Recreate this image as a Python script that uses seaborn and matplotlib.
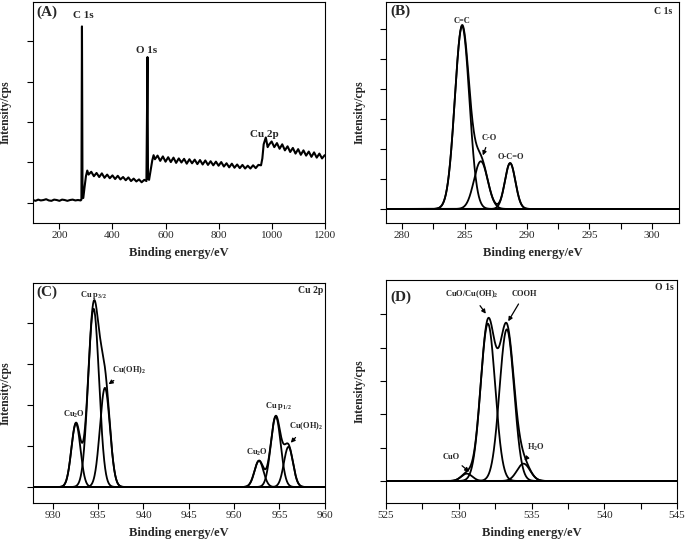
import numpy as np
import pandas as pd
import matplotlib
matplotlib.use('Agg')
import matplotlib.pyplot as plt
import seaborn as sns
from matplotlib.ticker import MultipleLocator, NullFormatter

# survey spectrum (A)
survey_ev = [100, 110, 120, 130, 140, 150, 160, 170, 180, 190, 200, 210, 220, 230, 240,
             250, 260, 270, 280, 283, 285, 287, 290, 295, 300, 305, 310, 320, 330, 340,
             350, 360, 370, 380, 390, 400, 410, 420, 430, 440, 450, 460, 470, 480, 490,
             500, 510, 520, 528, 532, 534, 538, 545, 550, 555, 560, 570, 580, 590, 600,
             610, 620, 630, 640, 650, 660, 670, 680, 690, 700, 710, 720, 730, 740, 750,
             760, 770, 780, 790, 800, 810, 820, 830, 840, 850, 860, 870, 880, 890, 900,
             910, 920, 930, 940, 950, 960, 965, 970, 978, 985, 990, 1000, 1010, 1020, 1030,
             1040, 1050, 1060, 1070, 1080, 1090, 1100, 1110, 1120, 1130, 1140, 1150, 1160,
             1170, 1180, 1190, 1200]
survey_int = [0.07, 0.05, 0.08, 0.06, 0.07, 0.09, 0.06, 0.05, 0.08, 0.07, 0.05, 0.08, 0.07, 0.05, 0.07,
              0.08, 0.06, 0.07, 0.06, 0.08, 4.37, 0.40, 0.12, 0.40, 0.66, 0.80, 0.70, 0.77, 0.66, 0.74,
              0.64, 0.73, 0.62, 0.70, 0.61, 0.68, 0.59, 0.67, 0.58, 0.64, 0.56, 0.63, 0.54, 0.60, 0.53,
              0.58, 0.51, 0.57, 0.54, 3.61, 0.60, 0.57, 0.85, 1.05, 1.18, 1.08, 1.17, 1.04, 1.15, 1.02,
              1.13, 1.01, 1.12, 0.99, 1.10, 1.00, 1.09, 0.97, 1.08, 0.98, 1.07, 0.96, 1.06, 0.95, 1.05,
              0.94, 1.03, 0.93, 1.02, 0.92, 1.01, 0.90, 0.98, 0.88, 0.97, 0.87, 0.95, 0.86, 0.94, 0.85,
              0.92, 0.85, 0.93, 0.86, 0.94, 0.93, 1.10, 1.45, 1.62, 1.38, 1.44, 1.52, 1.38, 1.48, 1.34,
              1.45, 1.30, 1.40, 1.26, 1.36, 1.22, 1.33, 1.19, 1.30, 1.17, 1.27, 1.14, 1.25,
              1.12, 1.22, 1.10, 1.18]

# C 1s fit components (B)
c1s_names = ['C=C', 'C-O', 'O-C=O']
c1s_center = [284.8, 286.3, 288.65]
c1s_height = [6.1, 1.59, 1.53]
c1s_sigma = [0.58, 0.55, 0.42]

# Cu 2p fit components (C)
cu_names = ['Cu2O', 'Cu p3/2', 'Cu(OH)2', 'Cu2O', 'Cu p1/2', 'Cu(OH)2']
cu_center = [932.55, 934.5, 935.75, 952.75, 954.6, 956.0]
cu_height = [1.55, 4.35, 2.42, 0.64, 1.72, 0.98]
cu_sigma = [0.5, 0.6, 0.55, 0.5, 0.55, 0.5]

# O 1s fit components (D)
o_names = ['CuO', 'CuO/Cu(OH)2', 'COOH', 'H2O']
o_center = [530.55, 532.0, 533.3, 534.45]
o_height = [0.22, 4.72, 4.55, 0.52]
o_sigma = [0.38, 0.5, 0.5, 0.45]


def gauss(x, c, h, s):
    return h * np.exp(-0.5 * ((x - c) / s) ** 2)


def fit_frame(x, centers, heights, sigmas):
    rows = []
    for i, (c, h, s) in enumerate(zip(centers, heights, sigmas)):
        rows.append(pd.DataFrame({'ev': x, 'cps': gauss(x, c, h, s), 'comp': f'p{i}'}))
    total = sum(gauss(x, c, h, s) for c, h, s in zip(centers, heights, sigmas))
    rows.append(pd.DataFrame({'ev': x, 'cps': total, 'comp': 'envelope'}))
    return pd.concat(rows, ignore_index=True)


sns.set_theme(style='ticks')
plt.rcParams['font.family'] = ['Liberation Serif', 'DejaVu Serif']
plt.rcParams['mathtext.fontset'] = 'custom'
plt.rcParams['mathtext.rm'] = 'Liberation Serif:bold'
plt.rcParams['mathtext.default'] = 'rm'

fig = plt.figure(figsize=(6.85, 5.44), dpi=100)
axA = fig.add_axes([0.048, 0.590, 0.426, 0.406])
axB = fig.add_axes([0.5635, 0.590, 0.428, 0.406])
axC = fig.add_axes([0.048, 0.0754, 0.426, 0.4044])
axD = fig.add_axes([0.5635, 0.0754, 0.425, 0.4099])

lab = dict(fontweight='bold', fontsize=6, ha='center', va='center')
arr = dict(arrowstyle='-|>', color='black', lw=0.9, mutation_scale=6)


def style(ax, xlim, ylim, nticks, minor=None):
    ax.set_xlim(*xlim)
    ax.set_ylim(*ylim)
    ax.set_yticks(range(nticks))
    ax.yaxis.set_major_formatter(NullFormatter())
    if minor:
        ax.xaxis.set_minor_locator(MultipleLocator(minor))
    ax.tick_params(axis='both', which='both', direction='out', length=4, width=0.8,
                   color='black', labelsize=8, pad=2)
    ax.set_xlabel('Binding energy/eV', fontweight='bold', fontsize=9, labelpad=5)
    ax.set_ylabel('Intensity/cps', fontweight='bold', fontsize=8.5, labelpad=9)
    for sp in ax.spines.values():
        sp.set_visible(True)
        sp.set_linewidth(0.8)
        sp.set_color('black')


# (A) survey
survey = pd.DataFrame({'ev': survey_ev, 'cps': survey_int})
sns.lineplot(data=survey, x='ev', y='cps', ax=axA, color='black', lw=1.5, sort=False)
style(axA, (100, 1200), (-0.5, 4.97), 5)
axA.set_xticks(range(200, 1201, 200))
axA.text(0.012, 0.985, '(A)', transform=axA.transAxes, fontsize=11, fontweight='bold', va='top')
axA.text(289, 4.64, 'C 1s', fontweight='bold', fontsize=8, ha='center', va='center')
axA.text(530, 3.78, 'O 1s', fontweight='bold', fontsize=8, ha='center', va='center')
axA.text(974, 1.70, 'Cu 2p', fontweight='bold', fontsize=8, ha='center', va='center')

# (B) C 1s
fb = fit_frame(np.linspace(278.7, 302.2, 1200), c1s_center, c1s_height, c1s_sigma)
sns.lineplot(data=fb, x='ev', y='cps', units='comp', estimator=None, ax=axB, color='black', lw=1.3)
axB.axhline(0, color='black', lw=1.3)
style(axB, (278.7, 302.2), (-0.47, 6.9), 7, minor=2.5)
axB.set_xticks(range(280, 301, 5))
axB.text(0.014, 0.99, '(B)', transform=axB.transAxes, fontsize=11, fontweight='bold', va='top')
axB.text(0.975, 0.98, 'C 1s', transform=axB.transAxes, fontsize=7, fontweight='bold', va='top', ha='right')
axB.text(284.8, 6.27, 'C=C', **lab)
axB.annotate('C-O', xy=(286.38, 1.70), xytext=(287.0, 2.38), arrowprops=arr, **lab)
axB.text(288.7, 1.74, 'O-C=O', **lab)

# (C) Cu 2p
fc = fit_frame(np.linspace(927.8, 960, 1600), cu_center, cu_height, cu_sigma)
sns.lineplot(data=fc, x='ev', y='cps', units='comp', estimator=None, ax=axC, color='black', lw=1.3)
axC.axhline(0, color='black', lw=1.3)
style(axC, (927.8, 960), (-0.39, 4.98), 5)
axC.set_xticks(range(930, 961, 5))
axC.text(0.013, 0.99, '(C)', transform=axC.transAxes, fontsize=11, fontweight='bold', va='top')
axC.text(0.995, 0.985, 'Cu 2p', transform=axC.transAxes, fontsize=7, fontweight='bold', va='top', ha='right')
axC.text(934.47, 4.68, 'Cu p$_{3/2}$', **lab)
axC.annotate('Cu(OH)$_2$', xy=(935.9, 2.47), xytext=(938.4, 2.86), arrowprops=arr, **lab)
axC.text(932.34, 1.78, 'Cu$_2$O', **lab)
axC.text(954.87, 1.98, 'Cu p$_{1/2}$', **lab)
axC.annotate('Cu(OH)$_2$', xy=(956.05, 1.03), xytext=(957.9, 1.48), arrowprops=arr, **lab)
axC.text(952.5, 0.85, 'Cu$_2$O', **lab)

# (D) O 1s
fd = fit_frame(np.linspace(525, 545, 1200), o_center, o_height, o_sigma)
sns.lineplot(data=fd, x='ev', y='cps', units='comp', estimator=None, ax=axD, color='black', lw=1.3)
axD.axhline(0, color='black', lw=1.3)
style(axD, (525, 545), (-0.66, 6.03), 6, minor=2.5)
axD.set_xticks(range(525, 546, 5))
axD.text(0.014, 0.955, '(D)', transform=axD.transAxes, fontsize=11, fontweight='bold', va='top')
axD.text(0.987, 0.985, 'O 1s', transform=axD.transAxes, fontsize=7, fontweight='bold', va='top', ha='right')
axD.annotate('CuO/Cu(OH)$_2$', xy=(531.97, 4.95), xytext=(530.9, 5.6), arrowprops=arr, **lab)
axD.annotate('COOH', xy=(533.3, 4.72), xytext=(534.5, 5.6), arrowprops=arr, **lab)
axD.annotate('CuO', xy=(530.86, 0.22), xytext=(529.5, 0.73), arrowprops=arr, **lab)
axD.annotate('H$_2$O', xy=(534.38, 0.55), xytext=(535.3, 1.0), arrowprops=arr, **lab)

fig.savefig('out.png', dpi=100)
